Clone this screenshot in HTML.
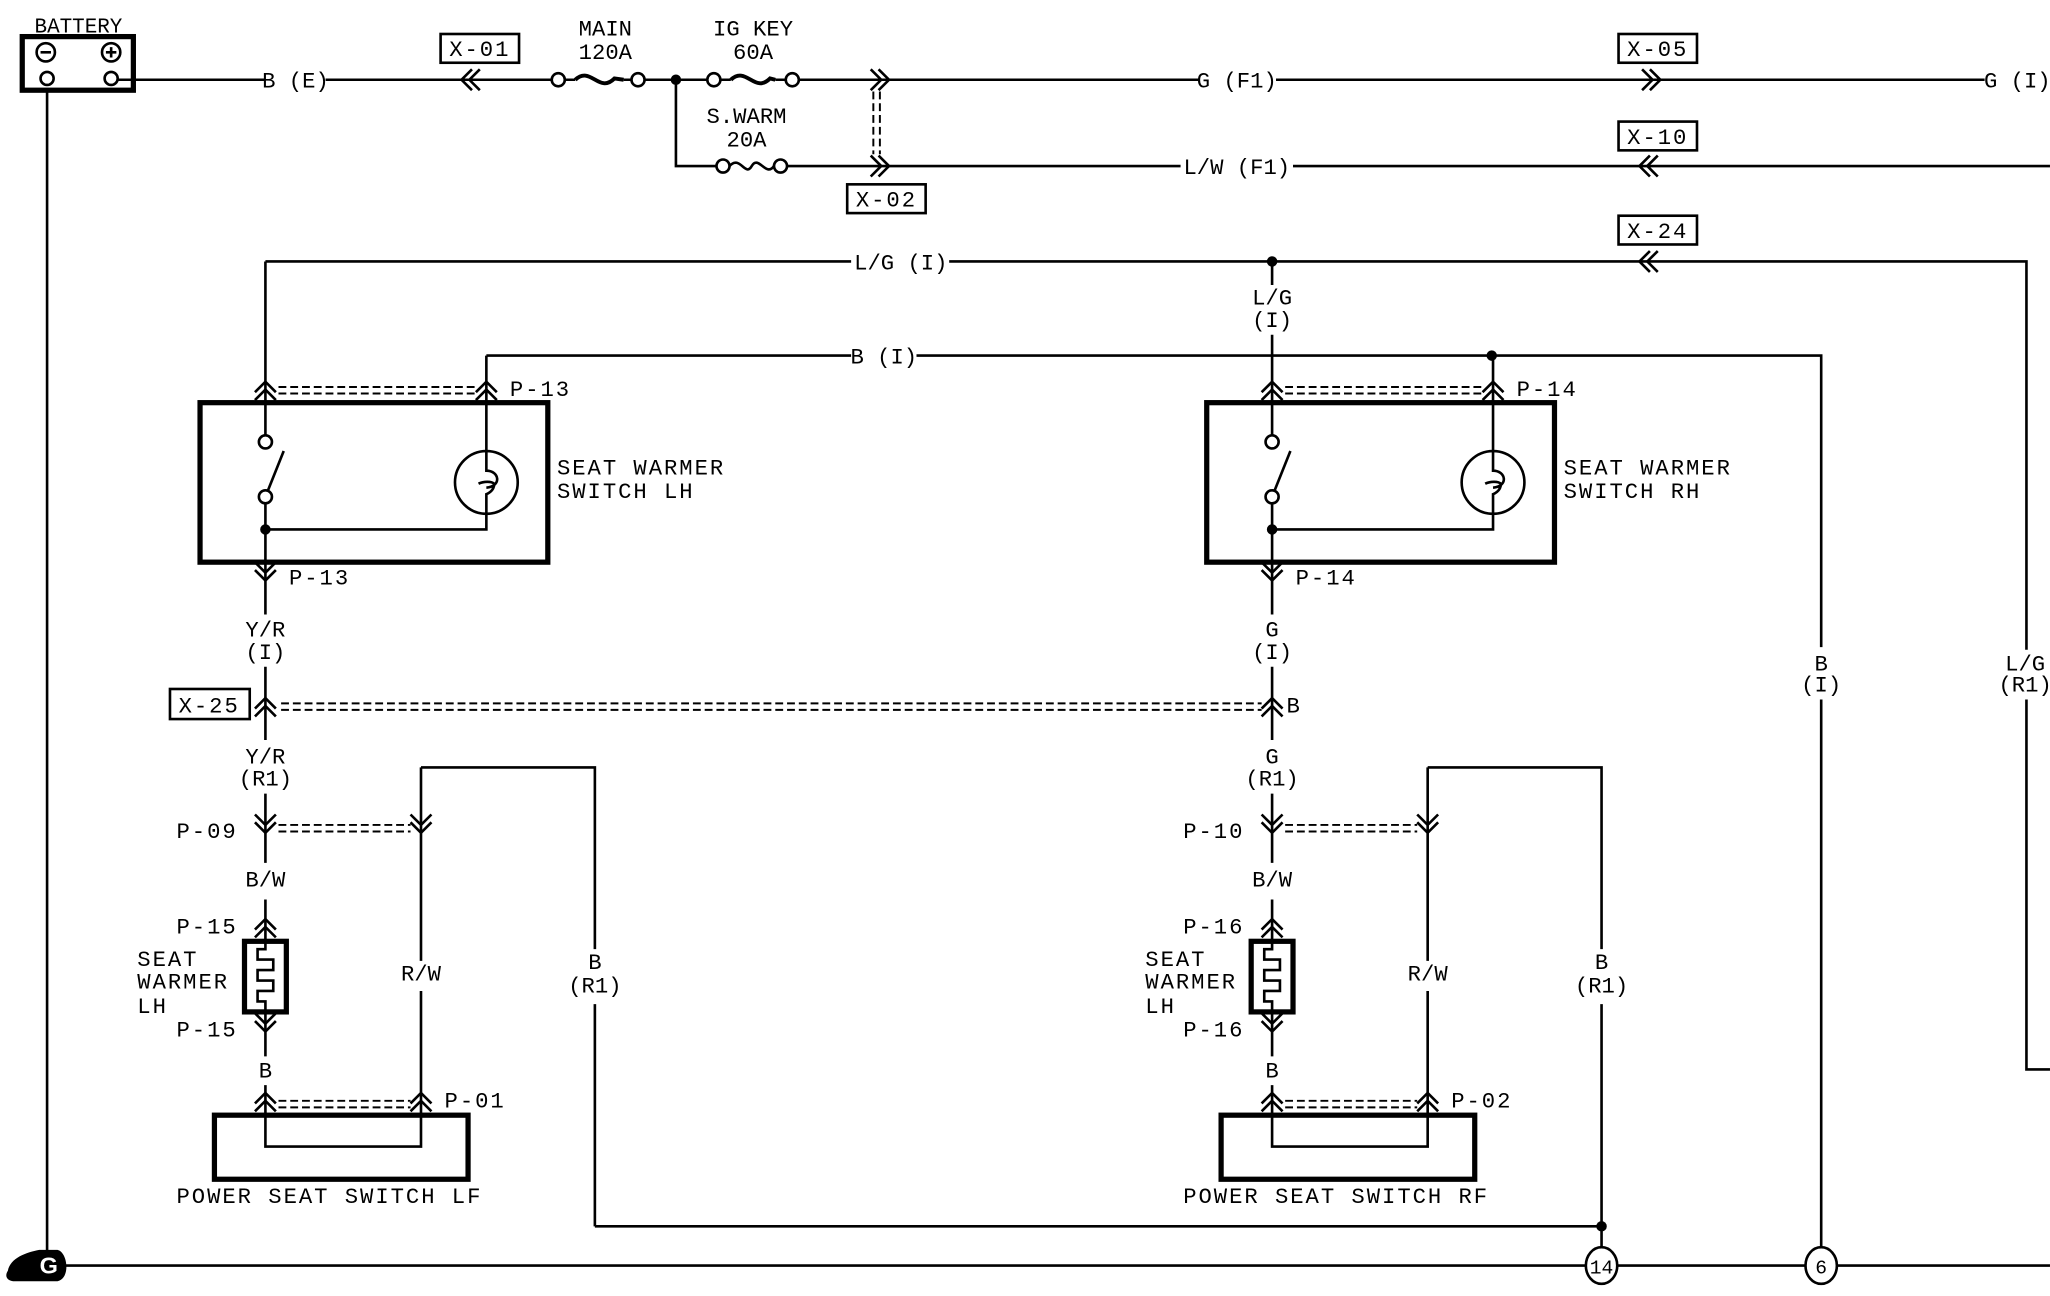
<!DOCTYPE html>
<html><head><meta charset="utf-8"><style>
html,body{margin:0;padding:0;background:#fff;}
svg{display:block;}
text{font-family:"Liberation Mono",monospace;font-size:17px;fill:#000;letter-spacing:1.5px;}
.c{text-anchor:middle;}
.n{letter-spacing:0;}
</style></head><body>
<svg width="2050" height="1296" viewBox="0 0 1568 991.3" xmlns="http://www.w3.org/2000/svg">
<defs>
<path id="up" d="M-8,4 L0,-4 L8,4 M-8,10 L0,2 L8,10" fill="none" stroke="#000" stroke-width="2"/>
<path id="dn" d="M-8,-4 L0,4 L8,-4 M-8,-10 L0,-2 L8,-10" fill="none" stroke="#000" stroke-width="2"/>
<path id="lf" d="M4,-8 L-4,0 L4,8 M10,-8 L2,0 L10,8" fill="none" stroke="#000" stroke-width="2"/>
<path id="rt" d="M-4,-8 L4,0 L-4,8 M-10,-8 L-2,0 L-10,8" fill="none" stroke="#000" stroke-width="2"/>
<g id="side" fill="none" stroke="#000">
  <rect x="153" y="308" width="266" height="122" stroke-width="4"/>
  <path d="M203,296 V333 M203,385 V470 M203,510 V566 M203,607 V660 M203,688 V719 M203,774 V808 M203,830 V877 H322 V758 M322,735 V587" stroke-width="2"/>
  <circle cx="203" cy="338" r="5" stroke-width="2"/>
  <circle cx="203" cy="380" r="5" stroke-width="2"/>
  <path d="M205,375 L217,345" stroke-width="2"/>
  <circle cx="203" cy="405" r="3.5" fill="#000"/>
  <path d="M203,405 H372 V393 M372,345 V272" stroke-width="2"/>
  <circle cx="372" cy="369" r="24" stroke-width="2"/>
  <path d="M372,345 V360 C382,360 384,372 372,373 M366,370 C370,368 376,368 378,370 C378,376 372,378 372,378 V393" stroke-width="2"/>
  <use href="#up" x="203" y="296"/><use href="#up" x="372" y="296"/>
  <path d="M213,296 H364 M213,301 H364" stroke-width="1.5" stroke-dasharray="6,3"/>
  <use href="#dn" x="203" y="440"/>
  <use href="#up" x="203" y="538"/>
  <use href="#dn" x="203" y="633"/><use href="#dn" x="322" y="633"/>
  <path d="M213,631 H314 M213,636 H314" stroke-width="1.5" stroke-dasharray="6,3"/>
  <use href="#up" x="203" y="707"/>
  <rect x="187" y="720" width="32" height="54" stroke-width="4"/>
  <path d="M203,720 V726 H197 V734 H209 V742 H197 V750 H209 V758 H197 V766 H203 V774" stroke-width="2"/>
  <use href="#dn" x="203" y="785"/>
  <use href="#up" x="203" y="840"/><use href="#up" x="322" y="840"/>
  <path d="M213,842 H314 M213,847 H314" stroke-width="1.5" stroke-dasharray="6,3"/>
  <rect x="164" y="853" width="194" height="49" stroke-width="4"/>
  <path d="M322,587 H455 V726 M455,768 V938" stroke-width="2"/>
</g>
</defs>
<rect width="1568" height="991.3" fill="#fff"/>
<rect x="17" y="28" width="85" height="41" fill="none" stroke="#000" stroke-width="4"/>
<circle cx="35" cy="40" r="7" fill="none" stroke="#000" stroke-width="2"/>
<path d="M31,40 H39" stroke="#000" stroke-width="2"/>
<circle cx="85" cy="40" r="7" fill="none" stroke="#000" stroke-width="2"/>
<path d="M81,40 H89 M85,36 V44" stroke="#000" stroke-width="2"/>
<circle cx="36" cy="60" r="5" fill="none" stroke="#000" stroke-width="2"/>
<circle cx="85" cy="60" r="5" fill="none" stroke="#000" stroke-width="2"/>
<text x="60" y="25" class="c" style="font-size:16px;letter-spacing:0">BATTERY</text>
<g fill="none" stroke="#000" stroke-width="2">
<path d="M36,69 V958"/>
<path d="M90,61 H202 M249,61 H422 M432,61 H440 M477,61 H483 M493,61 H541 M551,61 H559 M593,61 H601 M611,61 H917 M976,61 H1518"/>
<path d="M440,61 C452,50 458,72 470,60 L477,61" stroke-width="3"/>
<path d="M559,61 C571,50 577,72 589,60 L593,61" stroke-width="3"/>
<circle cx="427" cy="61" r="5"/><circle cx="488" cy="61" r="5"/>
<circle cx="546" cy="61" r="5"/><circle cx="606" cy="61" r="5"/>
<path d="M517,61 V127 H548 M602,127 H903 M989,127 H1568"/>
<circle cx="553" cy="127" r="5"/><circle cx="597" cy="127" r="5"/>
<path d="M558,127 C566,118 570,136 575,127 C580,118 586,136 592,127"/>
<path d="M668,70 V118 M673,70 V118" stroke-width="1.5" stroke-dasharray="6,3"/>
<path d="M203,200 V296 M203,200 H651 M726,200 H1550 V818 H1568"/>
<path d="M1550,497 V535" stroke="#fff" stroke-width="4"/>
<path d="M973,200 V218 M973,256 V296"/>
<path d="M372,272 H651 M701,272 H1393 V495 M1393,535 V954"/>
<path d="M50,968 H1213 M1237,968 H1381 M1405,968 H1568"/>
<ellipse cx="1225" cy="968" rx="12" ry="14"/>
<ellipse cx="1393" cy="968" rx="12" ry="14"/>
<path d="M455,938 H1225"/>
<rect x="337" y="26" width="60" height="22"/>
<rect x="1238" y="26" width="60" height="22"/>
<rect x="1238" y="93" width="60" height="22"/>
<rect x="648" y="141" width="60" height="22"/>
<rect x="1238" y="165" width="60" height="22"/>
<rect x="130" y="527" width="61" height="23"/>
</g>
<circle cx="517" cy="61" r="4" fill="#000"/>
<circle cx="973" cy="200" r="4" fill="#000"/>
<circle cx="1141" cy="272" r="4" fill="#000"/>
<circle cx="1225" cy="938" r="4" fill="#000"/>
<use href="#lf" x="357" y="61"/>
<use href="#rt" x="676" y="61"/>
<use href="#rt" x="676" y="127"/>
<use href="#rt" x="1266" y="61"/>
<use href="#lf" x="1258" y="127"/>
<use href="#lf" x="1258" y="200"/>
<use href="#side"/>
<use href="#side" x="770"/>
<path d="M1225,938 V954" stroke="#000" stroke-width="2"/>
<path d="M215,538 H965 M215,543 H965" stroke="#000" stroke-width="1.5" stroke-dasharray="6,3"/>
<path d="M6,972 C8,962 20,958 30,956 L44,956 C52,958 54,978 44,980 L10,980 C4,979 4,975 6,972 Z" fill="#000"/>
<text x="38" y="974" class="c" style="fill:#fff;font-family:'Liberation Sans',sans-serif;font-weight:bold;font-size:18px">G</text>
<text x="226" y="67" class="c n">B (E)</text>
<text x="367" y="43" class="c">X-01</text>
<text x="463" y="27" class="c n">MAIN</text>
<text x="463" y="45" class="c n">120A</text>
<text x="576" y="27" class="c n">IG KEY</text>
<text x="576" y="45" class="c n">60A</text>
<text x="571" y="94" class="c n">S.WARM</text>
<text x="571" y="112" class="c n">20A</text>
<text x="678" y="158" class="c">X-02</text>
<text x="946" y="67" class="c n">G (F1)</text>
<text x="1268" y="43" class="c">X-05</text>
<text x="1543" y="67" class="c n">G (I)</text>
<text x="946" y="133" class="c n">L/W (F1)</text>
<text x="1268" y="110" class="c">X-10</text>
<text x="1268" y="182" class="c">X-24</text>
<text x="689" y="206" class="c n">L/G (I)</text>
<text x="973" y="233" class="c n">L/G</text>
<text x="973" y="250" class="c n">(I)</text>
<text x="676" y="278" class="c n">B (I)</text>
<text x="1393" y="513" class="c n">B</text>
<text x="1393" y="529" class="c n">(I)</text>
<text x="1549" y="513" class="c n">L/G</text>
<text x="1549" y="529" class="c n">(R1)</text>
<text x="390" y="303">P-13</text>
<text x="426" y="363">SEAT WARMER</text>
<text x="426" y="381">SWITCH LH</text>
<text x="221" y="447">P-13</text>
<text x="203" y="487" class="c n">Y/R</text>
<text x="203" y="504" class="c n">(I)</text>
<text x="160" y="545" class="c">X-25</text>
<text x="203" y="584" class="c n">Y/R</text>
<text x="203" y="601" class="c n">(R1)</text>
<text x="135" y="641">P-09</text>
<text x="203" y="678" class="c n">B/W</text>
<text x="135" y="714">P-15</text>
<text x="105" y="739">SEAT</text>
<text x="105" y="756">WARMER</text>
<text x="105" y="775">LH</text>
<text x="135" y="793">P-15</text>
<text x="203" y="824" class="c n">B</text>
<text x="322" y="750" class="c n">R/W</text>
<text x="455" y="741" class="c n">B</text>
<text x="455" y="759" class="c n">(R1)</text>
<text x="340" y="847">P-01</text>
<text x="135" y="920">POWER SEAT SWITCH LF</text>
<text x="1160" y="303">P-14</text>
<text x="1196" y="363">SEAT WARMER</text>
<text x="1196" y="381">SWITCH RH</text>
<text x="991" y="447">P-14</text>
<text x="973" y="487" class="c n">G</text>
<text x="973" y="504" class="c n">(I)</text>
<text x="984" y="545">B</text>
<text x="973" y="584" class="c n">G</text>
<text x="973" y="601" class="c n">(R1)</text>
<text x="905" y="641">P-10</text>
<text x="973" y="678" class="c n">B/W</text>
<text x="905" y="714">P-16</text>
<text x="876" y="739">SEAT</text>
<text x="876" y="756">WARMER</text>
<text x="876" y="775">LH</text>
<text x="905" y="793">P-16</text>
<text x="973" y="824" class="c n">B</text>
<text x="1092" y="750" class="c n">R/W</text>
<text x="1225" y="741" class="c n">B</text>
<text x="1225" y="759" class="c n">(R1)</text>
<text x="1110" y="847">P-02</text>
<text x="905" y="920">POWER SEAT SWITCH RF</text>
<text x="1225" y="974" class="c" style="font-size:15px;letter-spacing:0">14</text>
<text x="1393" y="974" class="c" style="font-size:15px;letter-spacing:0">6</text>
</svg>
</body></html>
